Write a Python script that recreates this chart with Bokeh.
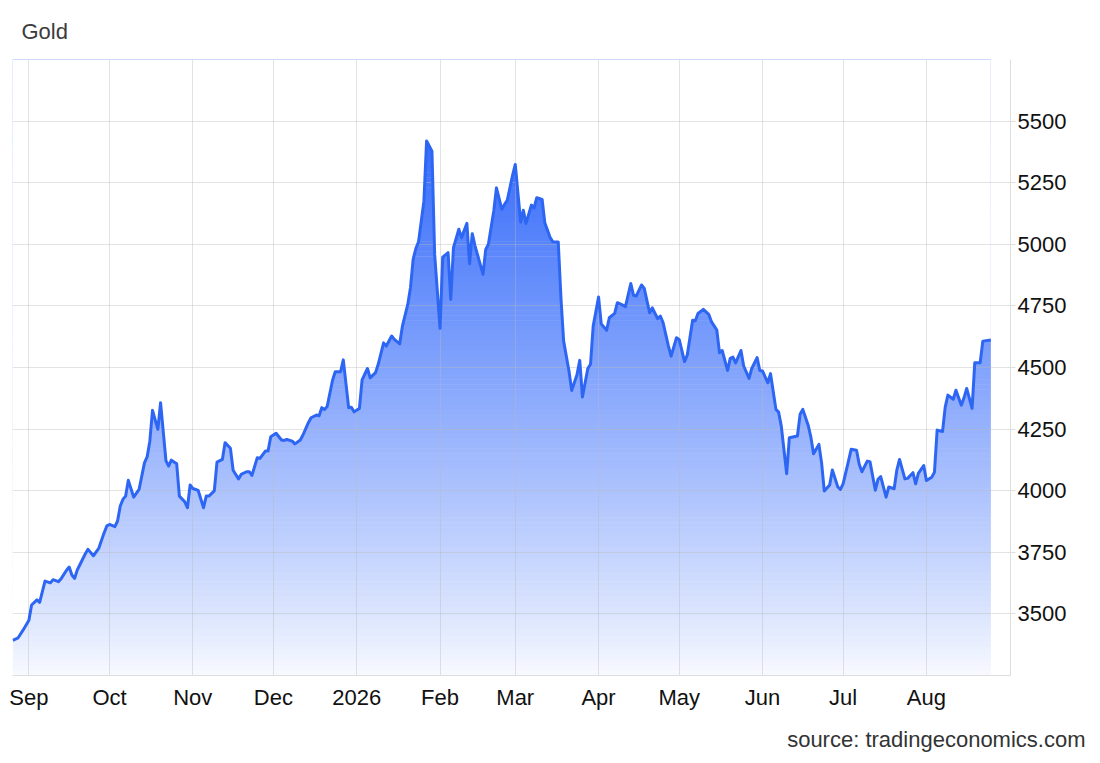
import numpy as np
import pandas as pd
from bokeh.plotting import figure
from bokeh.models import FixedTicker, Title, Range1d, ColumnDataSource
from bokeh.embed import file_html
from bokeh.resources import INLINE

dates = [
    "2025-08-26", "2025-08-28", "2025-08-30", "2025-09-01", "2025-09-02", "2025-09-04", "2025-09-05",
    "2025-09-07", "2025-09-09", "2025-09-10", "2025-09-12", "2025-09-13", "2025-09-15", "2025-09-16",
    "2025-09-17", "2025-09-18", "2025-09-19", "2025-09-22", "2025-09-23", "2025-09-25", "2025-09-27",
    "2025-09-29", "2025-09-30", "2025-10-01", "2025-10-03", "2025-10-04", "2025-10-05", "2025-10-06",
    "2025-10-07", "2025-10-08", "2025-10-10", "2025-10-12", "2025-10-14", "2025-10-15", "2025-10-16",
    "2025-10-17", "2025-10-19", "2025-10-20", "2025-10-22", "2025-10-23", "2025-10-24", "2025-10-26",
    "2025-10-27", "2025-10-29", "2025-10-30", "2025-10-31", "2025-11-01", "2025-11-03", "2025-11-05",
    "2025-11-06", "2025-11-07", "2025-11-09", "2025-11-10", "2025-11-12", "2025-11-13", "2025-11-15",
    "2025-11-16", "2025-11-18", "2025-11-19", "2025-11-21", "2025-11-22", "2025-11-23", "2025-11-25",
    "2025-11-26", "2025-11-28", "2025-11-29", "2025-11-30", "2025-12-02", "2025-12-04", "2025-12-05",
    "2025-12-06", "2025-12-08", "2025-12-09", "2025-12-11", "2025-12-12", "2025-12-14", "2025-12-15",
    "2025-12-17", "2025-12-18", "2025-12-19", "2025-12-20", "2025-12-21", "2025-12-23", "2025-12-24",
    "2025-12-26", "2025-12-27", "2025-12-29", "2025-12-30", "2025-12-31", "2026-01-02", "2026-01-03",
    "2026-01-05", "2026-01-06", "2026-01-08", "2026-01-09", "2026-01-11", "2026-01-12", "2026-01-14",
    "2026-01-15", "2026-01-17", "2026-01-18", "2026-01-20", "2026-01-21", "2026-01-22", "2026-01-23",
    "2026-01-24", "2026-01-26", "2026-01-27", "2026-01-29", "2026-01-30", "2026-02-01", "2026-02-02",
    "2026-02-04", "2026-02-05", "2026-02-06", "2026-02-08", "2026-02-09", "2026-02-11", "2026-02-12",
    "2026-02-13", "2026-02-14", "2026-02-17", "2026-02-18", "2026-02-19", "2026-02-21", "2026-02-22",
    "2026-02-24", "2026-02-25", "2026-02-26", "2026-02-28", "2026-03-01", "2026-03-03", "2026-03-04",
    "2026-03-05", "2026-03-07", "2026-03-08", "2026-03-09", "2026-03-11", "2026-03-12", "2026-03-14",
    "2026-03-15", "2026-03-17", "2026-03-18", "2026-03-19", "2026-03-21", "2026-03-22", "2026-03-24",
    "2026-03-25", "2026-03-26", "2026-03-28", "2026-03-29", "2026-03-30", "2026-04-01", "2026-04-02",
    "2026-04-04", "2026-04-05", "2026-04-07", "2026-04-08", "2026-04-10", "2026-04-11", "2026-04-13",
    "2026-04-14", "2026-04-15", "2026-04-17", "2026-04-18", "2026-04-20", "2026-04-21", "2026-04-23",
    "2026-04-24", "2026-04-25", "2026-04-27", "2026-04-28", "2026-04-30", "2026-05-01", "2026-05-03",
    "2026-05-04", "2026-05-06", "2026-05-07", "2026-05-08", "2026-05-10", "2026-05-12", "2026-05-13",
    "2026-05-15", "2026-05-16", "2026-05-17", "2026-05-19", "2026-05-20", "2026-05-21", "2026-05-22",
    "2026-05-24", "2026-05-25", "2026-05-27", "2026-05-28", "2026-05-30", "2026-05-31", "2026-06-01",
    "2026-06-03", "2026-06-04", "2026-06-06", "2026-06-07", "2026-06-08", "2026-06-10", "2026-06-11",
    "2026-06-14", "2026-06-15", "2026-06-16", "2026-06-18", "2026-06-19", "2026-06-20", "2026-06-22",
    "2026-06-23", "2026-06-24", "2026-06-26", "2026-06-27", "2026-06-29", "2026-06-30", "2026-07-01",
    "2026-07-03", "2026-07-04", "2026-07-06", "2026-07-07", "2026-07-08", "2026-07-10", "2026-07-11",
    "2026-07-13", "2026-07-14", "2026-07-15", "2026-07-17", "2026-07-18", "2026-07-20", "2026-07-21",
    "2026-07-22", "2026-07-24", "2026-07-25", "2026-07-27", "2026-07-28", "2026-07-29", "2026-07-31",
    "2026-08-01", "2026-08-03", "2026-08-04", "2026-08-05", "2026-08-07", "2026-08-08", "2026-08-09",
    "2026-08-11", "2026-08-12", "2026-08-14", "2026-08-15", "2026-08-16", "2026-08-18", "2026-08-19",
    "2026-08-21", "2026-08-22", "2026-08-25",
]

values = [
    3393, 3403, 3437, 3474, 3536, 3557, 3547,
    3633, 3626, 3639, 3631, 3643, 3677, 3690,
    3658, 3644, 3678, 3744, 3762, 3736, 3766,
    3829, 3857, 3863, 3854, 3877, 3938, 3965,
    3978, 4042, 3974, 4005, 4113, 4137, 4201,
    4326, 4249, 4357, 4122, 4100, 4124, 4109,
    3978, 3955, 3931, 4023, 4009, 4001, 3931,
    3978, 3978, 3999, 4116, 4127, 4195, 4172,
    4083, 4048, 4066, 4077, 4077, 4062, 4134,
    4131, 4161, 4161, 4219, 4233, 4206, 4204,
    4208, 4201, 4190, 4206, 4226, 4276, 4296,
    4307, 4304, 4337, 4330, 4342, 4448, 4483,
    4483, 4531, 4337, 4339, 4320, 4334, 4450,
    4496, 4458, 4479, 4513, 4600, 4587, 4628,
    4614, 4596, 4668, 4756, 4824, 4939, 4983,
    5010, 5175, 5419, 5378, 4959, 4659, 4948,
    4966, 4776, 4986, 5061, 5027, 5085, 4921,
    5043, 4995, 4878, 4979, 5000, 5135, 5229,
    5142, 5162, 5178, 5280, 5324, 5090, 5138,
    5085, 5159, 5148, 5189, 5182, 5087, 5027,
    5010, 5009, 4783, 4607, 4485, 4407, 4472,
    4529, 4380, 4496, 4513, 4668, 4786, 4677,
    4651, 4702, 4720, 4763, 4753, 4747, 4841,
    4793, 4790, 4835, 4821, 4722, 4742, 4698,
    4709, 4682, 4587, 4546, 4621, 4614, 4524,
    4550, 4692, 4690, 4719, 4736, 4716, 4686,
    4652, 4560, 4569, 4488, 4537, 4542, 4519,
    4569, 4506, 4456, 4496, 4540, 4488, 4486,
    4438, 4475, 4330, 4319, 4262, 4069, 4215,
    4222, 4310, 4330, 4266, 4218, 4150, 4188,
    4113, 3999, 4023, 4084, 4016, 4005, 4028,
    4120, 4168, 4164, 4107, 4077, 4120, 4118,
    4002, 4046, 4057, 3974, 4015, 4008, 4084,
    4127, 4048, 4050, 4073, 4028, 4070, 4102,
    4041, 4055, 4075, 4246, 4240, 4339, 4388,
    4371, 4408, 4347, 4377, 4415, 4334, 4519,
    4519, 4607, 4612,
]

tick_dates = ["2025-09-01", "2025-10-01", "2025-11-01", "2025-12-01", "2026-01-01", "2026-02-01",
              "2026-03-01", "2026-04-01", "2026-05-01", "2026-06-01", "2026-07-01", "2026-08-01"]
tick_labels = ["Sep", "Oct", "Nov", "Dec", "2026", "Feb", "Mar", "Apr", "May", "Jun", "Jul", "Aug"]
y_ticks = [3500, 3750, 4000, 4250, 4500, 4750, 5000, 5250, 5500]
y_min, y_max = 3250, 5750
x_start, x_end = "2025-08-25 21:36", "2026-09-01 07:12"

FONT = "Liberation Sans"
FONT_SIZE = "22px"
LINE_COLOR = "#2e66f4"
BASE_RGB = np.array([41, 98, 250])

x = pd.to_datetime(dates)
vals = np.array(values, dtype=float)
tick_ms = [int(pd.Timestamp(d).value // 10**6) for d in tick_dates]

p = figure(width=1090, height=763, x_axis_type="datetime", y_axis_location="right",
           output_backend="svg", toolbar_location=None,
           x_range=Range1d(pd.Timestamp(x_start), pd.Timestamp(x_end)),
           y_range=Range1d(y_min, y_max),
           min_border_left=12, min_border_right=80, min_border_top=58, min_border_bottom=88)
p.outline_line_color = None
p.background_fill_color = "white"
p.border_fill_color = "white"

# vertical gradient fill under the curve (bands masked above the line)
band = 20
levels = np.arange(y_min, y_max, band)
top_val = vals.max()
cols = []
for lv in levels:
    t = max(0.0, (lv + band / 2 - y_min) / (top_val - y_min))
    a = float(np.clip(0.03 + (t ** 0.88) * 0.90, 0.0, 0.95))
    c = 255 - a * (255 - BASE_RGB)
    cols.append("#%02x%02x%02x" % tuple(int(round(v)) for v in c))
n = len(levels)
band_src = ColumnDataSource(dict(left=[x[0]] * n, right=[x[-1]] * n,
                                 bottom=levels, top=levels + band + 2, color=cols))
p.quad(left="left", right="right", bottom="bottom", top="top", fill_color="color",
       line_color=None, source=band_src, level="image")
p.varea(x=x, y1=vals, y2=np.full(len(vals), y_max + 500), fill_color="white", level="image")

p.line(x, vals, line_color=LINE_COLOR, line_width=3, line_join="round")

# axes
xt = FixedTicker(ticks=tick_ms)
p.xaxis.ticker = xt
p.xaxis.major_label_overrides = dict(zip(tick_ms, tick_labels))
p.xaxis.major_tick_out = 0
p.xaxis.major_tick_in = 0
p.xaxis.minor_tick_line_color = None
p.xaxis.axis_line_color = "#dedede"
p.xaxis.major_label_text_font = FONT
p.xaxis.major_label_text_font_size = FONT_SIZE
p.xaxis.major_label_text_color = "#111111"
p.xaxis.major_label_standoff = 9

p.yaxis.ticker = FixedTicker(ticks=y_ticks)
p.yaxis.major_tick_out = 5
p.yaxis.major_tick_in = 3
p.yaxis.major_tick_line_color = "#dedede"
p.yaxis.minor_tick_line_color = None
p.yaxis.axis_line_color = "#dedede"
p.yaxis.major_label_text_font = FONT
p.yaxis.major_label_text_font_size = FONT_SIZE
p.yaxis.major_label_text_color = "#111111"
p.yaxis.major_label_standoff = 2

p.xgrid.ticker = xt
p.ygrid.ticker = FixedTicker(ticks=y_ticks + [y_max])
p.grid.grid_line_color = "#b8b8b8"
p.grid.grid_line_alpha = 0.4

# titles
p.title.text = "Gold"
p.title.text_font = FONT
p.title.text_font_size = FONT_SIZE
p.title.text_font_style = "normal"
p.title.text_color = "#3c3c3c"
p.title.offset = 9
p.title.standoff = 32

p.add_layout(Title(text="source: tradingeconomics.com", align="right", text_font=FONT,
                   text_font_size=FONT_SIZE, text_font_style="normal", text_color="#333333",
                   offset=-75, standoff=24), "below")

open("out.html", "w").write(file_html(p, INLINE))
